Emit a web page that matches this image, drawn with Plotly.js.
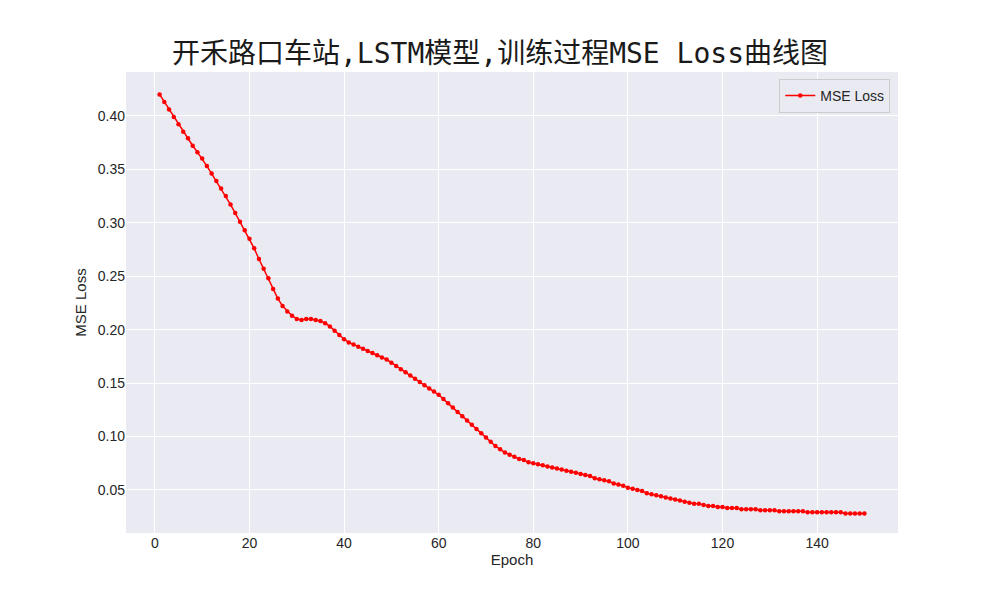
<!DOCTYPE html>
<html>
<head>
<meta charset="utf-8">
<script src="https://cdn.plot.ly/plotly-3.0.1.min.js"></script>
<style>body{margin:0}</style>
</head>
<body>
<div id="chart" style="width:1000px;height:600px"></div>
<script>
var loss = [
  0.420,0.413,0.406,0.399,0.392,0.385,0.379,0.372,0.366,0.360,
  0.353,0.346,0.339,0.332,0.325,0.317,0.309,0.301,0.293,0.285,
  0.276,0.266,0.257,0.248,0.238,0.229,0.222,0.217,0.213,0.210,
  0.209,0.210,0.210,0.209,0.208,0.206,0.203,0.199,0.195,0.191,
  0.188,0.186,0.184,0.182,0.180,0.178,0.176,0.174,0.172,0.169,
  0.166,0.163,0.160,0.157,0.154,0.151,0.148,0.145,0.142,0.139,
  0.135,0.131,0.127,0.123,0.119,0.115,0.111,0.107,0.103,0.099,
  0.095,0.091,0.088,0.085,0.083,0.081,0.079,0.078,0.076,0.075,
  0.074,0.073,0.072,0.071,0.070,0.069,0.068,0.067,0.066,0.065,
  0.064,0.063,0.061,0.060,0.059,0.058,0.056,0.055,0.054,0.052,
  0.051,0.050,0.049,0.047,0.046,0.045,0.044,0.043,0.042,0.041,
  0.040,0.039,0.038,0.037,0.037,0.036,0.035,0.035,0.034,0.034,
  0.033,0.033,0.033,0.032,0.032,0.032,0.032,0.031,0.031,0.031,
  0.031,0.030,0.030,0.030,0.030,0.030,0.030,0.029,0.029,0.029,
  0.029,0.029,0.029,0.029,0.029,0.028,0.028,0.028,0.028,0.028
];
var epochs = [];
loss.forEach((v, i) => { epochs.push(i + 1); });

var trace = [{
  x: epochs,
  y: loss,
  mode: 'lines+markers',
  name: 'MSE Loss',
  line: {color: 'red', width: 1.5},
  marker: {color: 'red', size: 4.5}
}];

var layout = {
  width: 1000, height: 600,
  margin: {l: 126, r: 102, t: 72, b: 67},
  paper_bgcolor: 'white',
  plot_bgcolor: '#eaeaf2',
  font: {family: 'Liberation Sans, Arial, Noto Sans CJK SC', size: 14, color: '#262626'},
  title: {text: '开禾路口车站,LSTM模型,训练过程MSE Loss曲线图', x: 0.5, y: 0.912, yanchor: 'middle',
    font: {family: 'DejaVu Sans Mono, Noto Sans CJK SC', size: 28, color: '#1a1a1a'}},
  xaxis: {title: {text: 'Epoch', standoff: 4, font: {size: 15}}, range: [-6.1, 157.1], tickvals: [0,20,40,60,80,100,120,140],
    gridcolor: 'white', gridwidth: 1.3, zeroline: false, showline: false, ticks: ''},
  yaxis: {title: {text: 'MSE Loss', font: {size: 15}}, range: [0.0097, 0.441], tickformat: '.2f', dtick: 0.05, tick0: 0,
    gridcolor: 'white', gridwidth: 1.3, zeroline: false, showline: false, ticks: ''},
  showlegend: true,
  legend: {x: 0.99, y: 0.985, xanchor: 'right', yanchor: 'top', bgcolor: '#eaeaf2',
    bordercolor: '#cccccc', borderwidth: 1, font: {size: 14}}
};

Plotly.newPlot('chart', trace, layout, {displayModeBar: false});
</script>
</body>
</html>
